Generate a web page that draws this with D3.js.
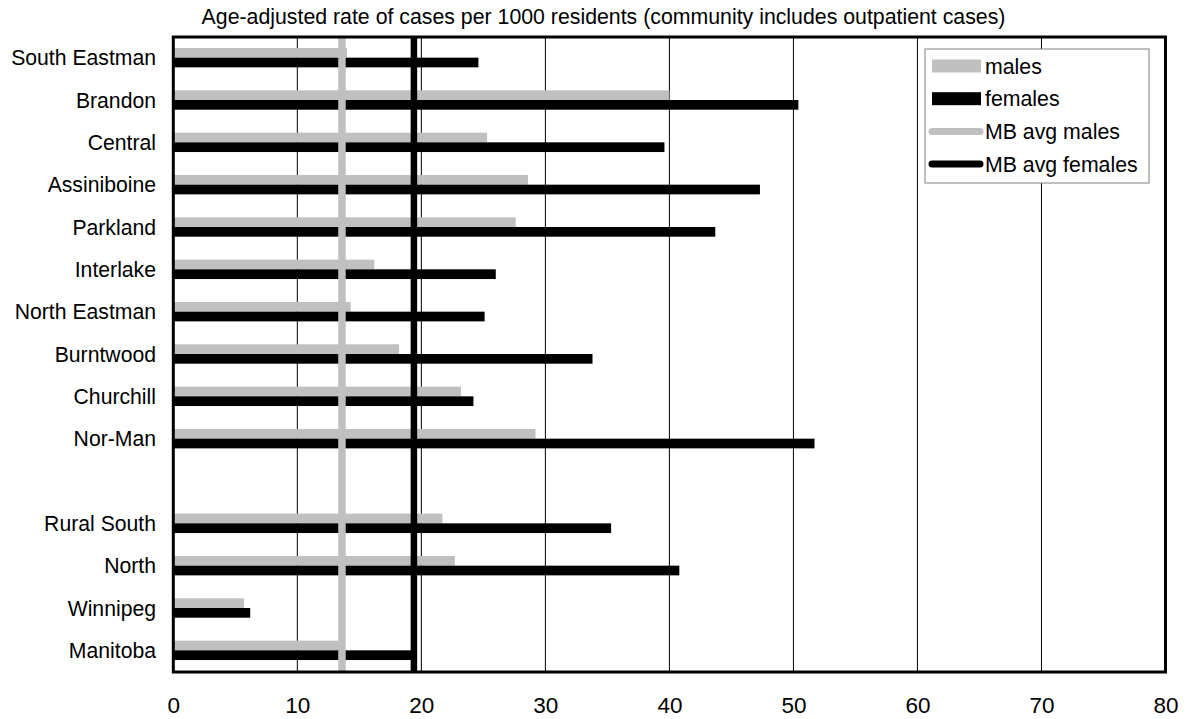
<!DOCTYPE html>
<html><head><meta charset="utf-8">
<script src="https://cdn.jsdelivr.net/npm/d3@7"></script>
<style>
html,body{margin:0;padding:0;background:#fff;}
svg text{font-family:"Liberation Sans",Arial,sans-serif;fill:#000;}
</style></head>
<body><svg id="chart" width="1197" height="719"></svg>
<script>
const categories = ["South Eastman","Brandon","Central","Assiniboine","Parkland","Interlake","North Eastman","Burntwood","Churchill","Nor-Man","","Rural South","North","Winnipeg","Manitoba"];
const males   = [14.0,40.0,25.3,28.6,27.6,16.2,14.3,18.2,23.2,29.2,null,21.7,22.7,5.7,13.6];
const females = [24.6,50.4,39.6,47.3,43.7,26.0,25.1,33.8,24.2,51.7,null,35.3,40.8,6.2,19.5];
const avgMales = 13.6;
const avgFemales = 19.4;
const xTicks = [0,10,20,30,40,50,60,70,80];
const title = "Age-adjusted rate of cases per 1000 residents (community includes outpatient cases)";
const legendItems = [
  {label:"males", type:"rect", color:"#c0c0c0"},
  {label:"females", type:"rect", color:"#000000"},
  {label:"MB avg males", type:"line", color:"#c0c0c0"},
  {label:"MB avg females", type:"line", color:"#000000"}
];

const svg = d3.select("#chart");
const L = 173.3, R = 1165.5, T = 37, B = 672;
const x = d3.scaleLinear().domain([0,80]).range([L,R]);
const y = d3.scaleBand().domain(d3.range(categories.length)).range([T,B]);
const barH = 9.7;

// gridlines
svg.append("g").selectAll("line").data(xTicks.slice(1,-1)).join("line")
  .attr("x1",d=>x(d)).attr("x2",d=>x(d)).attr("y1",T).attr("y2",B)
  .attr("stroke","#000").attr("stroke-width",1);

// bars
const rows = categories.map((c,i)=>({c,i,m:males[i],f:females[i]})).filter(d=>d.m!=null);
const gBars = svg.append("g");
gBars.selectAll("rect.m").data(rows).join("rect").attr("class","m")
  .attr("x",x(0)).attr("width",d=>x(d.m)-x(0))
  .attr("y",d=>y(d.i)+y.bandwidth()/2-0.5-barH).attr("height",barH)
  .attr("fill","#c0c0c0");
gBars.selectAll("rect.f").data(rows).join("rect").attr("class","f")
  .attr("x",x(0)).attr("width",d=>x(d.f)-x(0))
  .attr("y",d=>y(d.i)+y.bandwidth()/2-0.5).attr("height",barH)
  .attr("fill","#000");

// average lines
svg.append("line").attr("x1",x(avgMales)).attr("x2",x(avgMales)).attr("y1",T).attr("y2",B)
  .attr("stroke","#c0c0c0").attr("stroke-width",7.5);
svg.append("line").attr("x1",x(avgFemales)).attr("x2",x(avgFemales)).attr("y1",T).attr("y2",B)
  .attr("stroke","#000").attr("stroke-width",6.5);

// frame
svg.append("rect").attr("x",L).attr("y",T).attr("width",R-L).attr("height",B-T)
  .attr("fill","none").attr("stroke","#000").attr("stroke-width",3);

// x axis labels
const xAxis = d3.axisBottom(x).tickValues(xTicks).tickSize(0).tickPadding(0);
const gx = svg.append("g").attr("transform",`translate(0,${B})`).call(xAxis);
gx.select(".domain").remove();
gx.selectAll("text").attr("font-size","22.5px").attr("dy",null).attr("y",41.3)
  .style("font-family","'Liberation Sans',Arial,sans-serif").attr("fill","#000");

// y labels
const yAxis = d3.axisLeft(y).tickFormat(i=>categories[i]).tickSize(0).tickPadding(0);
const gy = svg.append("g").attr("transform",`translate(${156},0)`).call(yAxis);
gy.select(".domain").remove();
gy.selectAll("text").attr("font-size","21.2px").attr("x",0).attr("dy","0.33em")
  .style("font-family","'Liberation Sans',Arial,sans-serif").attr("fill","#000");

// title
svg.append("text").attr("x",603.5).attr("y",24).attr("text-anchor","middle")
  .attr("font-size","21.3px").text(title);

// legend
const lg = svg.append("g");
lg.append("rect").attr("x",925).attr("y",49).attr("width",224).attr("height",134)
  .attr("fill","#fff").attr("stroke","#808080").attr("stroke-width",1);
const rowY = i => 66 + i*32.7;
legendItems.forEach((d,i)=>{
  const cy = rowY(i);
  if(d.type==="rect"){
    lg.append("rect").attr("x",932).attr("y",cy-6.5).attr("width",49).attr("height",13).attr("fill",d.color);
  } else {
    lg.append("line").attr("x1",932).attr("x2",980).attr("y1",cy).attr("y2",cy)
      .attr("stroke",d.color).attr("stroke-width",7).attr("stroke-linecap","round");
  }
  lg.append("text").attr("x",985).attr("y",cy+7.5).attr("font-size","21.3px").text(d.label);
});
</script></body></html>
